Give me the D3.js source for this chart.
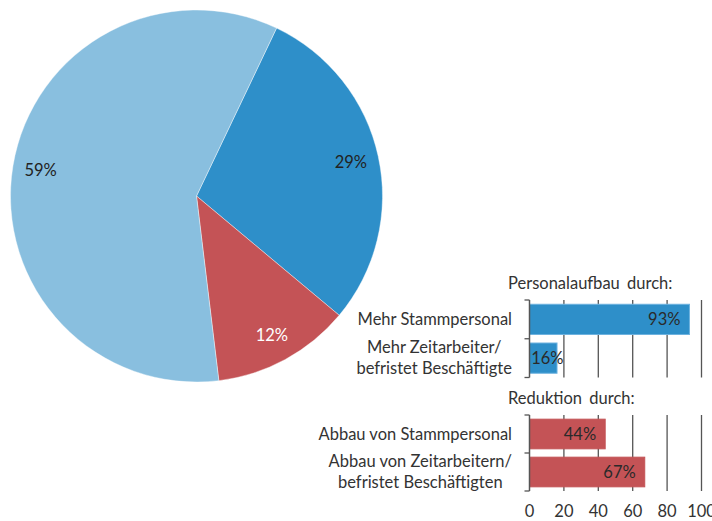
<!DOCTYPE html>
<html>
<head>
<meta charset="utf-8">
<script src="https://cdn.jsdelivr.net/npm/d3@7"></script>
<style>
  html, body { margin: 0; padding: 0; background: #fff; }
  svg { display: block; }
  text { font-family: "Source Sans Pro", Lato, "Open Sans", sans-serif; }
</style>
</head>
<body>
<svg id="chart" width="712" height="521"></svg>
<script>
// ---- Data ----
const pieLabels = ["29%", "12%", "59%"];
const pieValues = [29, 12, 59];
const pieColors = ["#2e8fc9", "#c45356", "#89bfdf"];
const pieLabelColors = ["#222222", "#ffffff", "#222222"];

const upTitle = "Personalaufbau durch:";
const upCategories = [["Mehr Stammpersonal"], ["Mehr Zeitarbeiter/", "befristet Beschäftigte"]];
const upValues = [93, 16];

const downTitle = "Reduktion durch:";
const downCategories = [["Abbau von Stammpersonal"], ["Abbau von Zeitarbeitern/", "befristet Beschäftigten"]];
const downValues = [44, 67];

const xTicks = [0, 20, 40, 60, 80, 100];

// ---- Drawing ----
const svg = d3.select("#chart");
const FS = 16.5;

// Pie
const cx = 196.5, cy = 196, R = 186;
const start = 25.5 * Math.PI / 180;
const pie = d3.pie().sort(null).startAngle(start).endAngle(start + 2 * Math.PI);
const arcs = pie(pieValues);
const arc = d3.arc().innerRadius(0).outerRadius(R);
const labelArc = d3.arc().innerRadius(158).outerRadius(158);
const gPie = svg.append("g").attr("transform", `translate(${cx},${cy})`);
gPie.selectAll("path").data(arcs).join("path")
  .attr("d", arc)
  .attr("fill", (d, i) => pieColors[i])
  .attr("stroke", "#ffffff").attr("stroke-width", 0.4);
gPie.selectAll("text").data(arcs).join("text")
  .attr("transform", d => `translate(${labelArc.centroid(d)})`)
  .attr("text-anchor", "middle")
  .attr("dy", "0.35em")
  .attr("font-size", FS)
  .attr("fill", (d, i) => pieLabelColors[i])
  .text((d, i) => pieLabels[i]);

// Bars
const x = d3.scaleLinear().domain([0, 100]).range([529.5, 701.5]);
const gridColor = "#555555";

function panel(title, cats, vals, y0, y1, color, edge, titleY) {
  const y = d3.scaleBand().domain(d3.range(vals.length)).range([y0, y1])
    .paddingInner(0.22).paddingOuter(0.11);
  const g = svg.append("g");
  // title
  g.append("text").attr("x", 508).attr("y", titleY)
    .attr("font-size", FS).attr("fill", "#333").style("word-spacing", "3px").text(title);
  // gridlines
  g.selectAll("line.grid").data(xTicks.slice(1)).join("line")
    .attr("class", "grid")
    .attr("x1", d => x(d)).attr("x2", d => x(d))
    .attr("y1", y0).attr("y2", y1)
    .attr("stroke", gridColor).attr("stroke-width", 1.3);
  // bars
  g.selectAll("rect").data(vals).join("rect")
    .attr("x", x(0)).attr("y", (d, i) => y(i))
    .attr("width", d => x(d) - x(0)).attr("height", y.bandwidth())
    .attr("fill", color).attr("stroke", edge).attr("stroke-width", 1);
  // axis line and ticks
  g.append("line").attr("x1", x(0)).attr("x2", x(0)).attr("y1", y0).attr("y2", y1)
    .attr("stroke", gridColor).attr("stroke-width", 1.5);
  const tickYs = d3.range(vals.length + 1).map(i => y0 + i * (y1 - y0) / vals.length);
  g.selectAll("line.tk").data(tickYs).join("line").attr("class", "tk")
    .attr("x1", x(0) - 5).attr("x2", x(0)).attr("y1", d => d).attr("y2", d => d)
    .attr("stroke", gridColor).attr("stroke-width", 1.3);
  // value labels
  g.selectAll("text.val").data(vals).join("text").attr("class", "val")
    .attr("x", d => Math.max(x(d) - 9, x(0) + 34))
    .attr("y", (d, i) => y(i) + y.bandwidth() / 2)
    .attr("dy", "0.35em").attr("text-anchor", "end")
    .attr("font-size", FS).attr("fill", "#2a2a2a")
    .text(d => d + "%");
  // category labels
  cats.forEach((lines, i) => {
    const cyb = y(i) + y.bandwidth() / 2;
    const t = g.append("text").attr("font-size", FS).attr("fill", "#333")
      .attr("text-anchor", "middle");
    const n = lines.length;
    lines.forEach((ln, j) => {
      t.append("tspan").attr("x", 0)
        .attr("y", cyb + (j - (n - 1) / 2) * 21)
        .attr("dy", "0.35em").text(ln);
    });
    const w = t.node().getBBox().width;
    t.attr("transform", `translate(${512 - w / 2},0)`);
  });
}

panel(upTitle, upCategories, upValues, 300, 377.5, "#2e8fc9", "#6db2df", 289);
panel(downTitle, downCategories, downValues, 415, 491, "#c45356", "#c45356", 404);

// x tick labels
svg.append("g").selectAll("text").data(xTicks).join("text")
  .attr("x", d => x(d)).attr("y", 517)
  .attr("text-anchor", "middle").attr("font-size", FS).attr("fill", "#333")
  .text(d => d);
</script>
</body>
</html>
